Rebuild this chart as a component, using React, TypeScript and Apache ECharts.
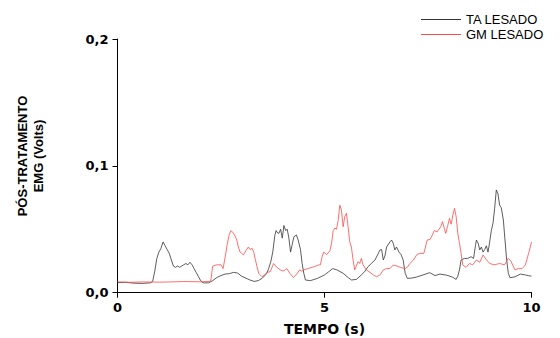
import React, { useEffect, useRef } from "react";
import * as echarts from "echarts";

const SERIES_NAMES = ["TA LESADO", "GM LESADO"];
const X_TICKS = [0, 5, 10];
const Y_TICKS = [0, 0.1, 0.2];

// [time (s), EMG (V)]
const TA_LESADO: [number, number][] = [
  [0, 0.008], [0.2, 0.0082], [0.4, 0.0075], [0.6, 0.0073], [0.8, 0.0078], [0.85, 0.009],
  [0.9, 0.017], [0.95, 0.027], [1.0, 0.032], [1.05, 0.035], [1.1, 0.04], [1.15, 0.037],
  [1.2, 0.034], [1.25, 0.031], [1.3, 0.026], [1.35, 0.021], [1.4, 0.02], [1.45, 0.021],
  [1.5, 0.02], [1.55, 0.021], [1.6, 0.022], [1.65, 0.023], [1.7, 0.022], [1.75, 0.024],
  [1.8, 0.022], [1.85, 0.019], [1.9, 0.016], [1.95, 0.013], [2.0, 0.01], [2.05, 0.008],
  [2.1, 0.0077], [2.2, 0.0078], [2.3, 0.0095], [2.4, 0.012], [2.5, 0.0135], [2.6, 0.0147],
  [2.7, 0.015], [2.8, 0.016], [2.9, 0.0155], [3.0, 0.013], [3.1, 0.0115], [3.2, 0.01],
  [3.3, 0.0089], [3.4, 0.0095], [3.5, 0.0115], [3.6, 0.015], [3.65, 0.019], [3.7, 0.024],
  [3.75, 0.032], [3.8, 0.045], [3.83, 0.049], [3.87, 0.047], [3.9, 0.0468], [3.94, 0.05],
  [3.98, 0.043], [4.02, 0.053], [4.06, 0.049], [4.1, 0.05], [4.14, 0.043], [4.18, 0.032],
  [4.22, 0.038], [4.26, 0.044], [4.32, 0.0455], [4.36, 0.042], [4.42, 0.034], [4.46, 0.023],
  [4.5, 0.0153], [4.54, 0.01], [4.66, 0.0095], [4.83, 0.0113], [5.0, 0.014], [5.1, 0.0165],
  [5.2, 0.019], [5.3, 0.018], [5.45, 0.0153], [5.57, 0.012], [5.65, 0.01], [5.77, 0.0105],
  [5.89, 0.014], [5.97, 0.0166], [6.05, 0.0205], [6.13, 0.023], [6.22, 0.0258], [6.3, 0.031],
  [6.34, 0.0337], [6.38, 0.034], [6.42, 0.0258], [6.46, 0.029], [6.5, 0.036], [6.58, 0.04],
  [6.62, 0.0415], [6.66, 0.039], [6.7, 0.0337], [6.74, 0.036], [6.8, 0.032], [6.85, 0.03],
  [6.9, 0.0258], [6.95, 0.0153], [7.0, 0.0113], [7.1, 0.0115], [7.22, 0.0123], [7.38, 0.014],
  [7.54, 0.0158], [7.67, 0.0135], [7.79, 0.0147], [7.95, 0.0138], [8.09, 0.0123], [8.18, 0.0105],
  [8.22, 0.013], [8.26, 0.018], [8.3, 0.0258], [8.38, 0.027], [8.46, 0.027], [8.54, 0.0284],
  [8.6, 0.027], [8.65, 0.038], [8.67, 0.0415], [8.71, 0.039], [8.75, 0.0337], [8.79, 0.036],
  [8.83, 0.032], [8.87, 0.034], [8.91, 0.037], [8.95, 0.032], [8.99, 0.04], [9.03, 0.049],
  [9.07, 0.0547], [9.11, 0.0665], [9.15, 0.081], [9.19, 0.078], [9.23, 0.069], [9.27, 0.067],
  [9.32, 0.0573], [9.36, 0.0415], [9.4, 0.0258], [9.44, 0.0153], [9.48, 0.0118], [9.6, 0.0125],
  [9.73, 0.0147], [9.85, 0.014], [9.93, 0.0134], [10, 0.013],
];

const GM_LESADO: [number, number][] = [
  [0, 0.0085], [0.3, 0.0082], [0.6, 0.0085], [1.0, 0.0083], [1.3, 0.0085], [1.6, 0.0088],
  [2.0, 0.0086], [2.25, 0.009], [2.3, 0.021], [2.4, 0.022], [2.5, 0.022], [2.55, 0.019],
  [2.6, 0.028], [2.65, 0.038], [2.7, 0.046], [2.74, 0.049], [2.8, 0.047], [2.85, 0.044],
  [2.88, 0.0415], [2.92, 0.036], [2.96, 0.032], [3.0, 0.031], [3.04, 0.0297], [3.1, 0.033],
  [3.16, 0.036], [3.2, 0.034], [3.25, 0.035], [3.29, 0.032], [3.33, 0.026], [3.37, 0.0205],
  [3.41, 0.0153], [3.49, 0.0126], [3.55, 0.014], [3.61, 0.016], [3.69, 0.0166], [3.77, 0.023],
  [3.85, 0.02], [3.93, 0.018], [4.0, 0.017], [4.05, 0.018], [4.09, 0.019], [4.17, 0.015],
  [4.25, 0.012], [4.33, 0.0147], [4.4, 0.018], [4.45, 0.017], [4.5, 0.018], [4.6, 0.019],
  [4.75, 0.0205], [4.85, 0.0218], [4.9, 0.022], [4.94, 0.028], [4.98, 0.032], [5.05, 0.03],
  [5.13, 0.033], [5.17, 0.039], [5.21, 0.049], [5.25, 0.051], [5.29, 0.05], [5.33, 0.057],
  [5.37, 0.069], [5.41, 0.065], [5.45, 0.052], [5.49, 0.06], [5.53, 0.0626], [5.57, 0.052],
  [5.61, 0.04], [5.65, 0.036], [5.69, 0.0258], [5.73, 0.018], [5.81, 0.0245], [5.85, 0.023],
  [5.89, 0.027], [5.93, 0.022], [6.01, 0.018], [6.1, 0.016], [6.18, 0.014], [6.26, 0.0126],
  [6.34, 0.014], [6.42, 0.018], [6.5, 0.019], [6.58, 0.019], [6.66, 0.0218], [6.75, 0.021],
  [6.83, 0.02], [6.94, 0.019], [7.0, 0.02], [7.06, 0.023], [7.15, 0.0258], [7.23, 0.03],
  [7.3, 0.031], [7.4, 0.031], [7.48, 0.0415], [7.55, 0.042], [7.6, 0.045], [7.65, 0.049],
  [7.72, 0.048], [7.81, 0.052], [7.85, 0.056], [7.9, 0.05], [7.93, 0.0468], [7.97, 0.052],
  [8.02, 0.0586], [8.06, 0.054], [8.1, 0.0612], [8.14, 0.0665], [8.18, 0.06], [8.22, 0.0468],
  [8.26, 0.039], [8.3, 0.031], [8.34, 0.0218], [8.42, 0.02], [8.5, 0.023], [8.58, 0.022],
  [8.67, 0.0258], [8.75, 0.024], [8.83, 0.0297], [8.91, 0.026], [8.99, 0.023], [9.1, 0.022],
  [9.23, 0.023], [9.35, 0.022], [9.44, 0.027], [9.5, 0.025], [9.6, 0.018], [9.68, 0.019],
  [9.77, 0.019], [9.85, 0.0218], [9.93, 0.031], [10, 0.04],
];

const COLORS = ["#333333", "#ff4a4a"];
const BOLD_FONT = "DejaVu Sans";

export default function App() {
  const ref = useRef<HTMLDivElement>(null);
  useEffect(() => {
    if (!ref.current) return;
    const chart = echarts.init(ref.current, undefined, { renderer: "svg" });
    const axisCommon = {
      axisLine: { show: true, lineStyle: { color: "#000", width: 1 } },
      axisTick: { show: true, inside: false, length: 5, lineStyle: { color: "#000", width: 1 } },
      splitLine: { show: false },
    };
    chart.setOption({
      animation: false,
      backgroundColor: "#fff",
      grid: {
        left: 117.5,
        right: 28.5,
        top: 39,
        bottom: 45.3,
        containLabel: false,
        outerBoundsMode: "none",
      },
      legend: {
        data: SERIES_NAMES,
        orient: "vertical",
        left: 421,
        top: 13,
        itemWidth: 40,
        itemHeight: 1,
        itemGap: 2,
        padding: 0,
        icon: "rect",
        textStyle: { fontFamily: "Liberation Sans", fontSize: 13, color: "#000" },
      },
      xAxis: {
        type: "value",
        min: X_TICKS[0],
        max: X_TICKS[X_TICKS.length - 1],
        interval: X_TICKS[1] - X_TICKS[0],
        ...axisCommon,
        axisLabel: { margin: 8, color: "#000", fontFamily: BOLD_FONT, fontWeight: "bold", fontSize: 13 },
        name: "TEMPO (s)",
        nameLocation: "middle",
        nameGap: 29,
        nameTextStyle: { color: "#000", fontFamily: BOLD_FONT, fontWeight: "bold", fontSize: 14 },
      },
      yAxis: {
        type: "value",
        min: Y_TICKS[0],
        max: Y_TICKS[Y_TICKS.length - 1],
        interval: Y_TICKS[1] - Y_TICKS[0],
        ...axisCommon,
        axisLabel: {
          margin: 9,
          color: "#000",
          fontFamily: BOLD_FONT,
          fontWeight: "bold",
          fontSize: 13,
          formatter: (v: number) => v.toFixed(1).replace(".", ","),
        },
      },
      graphic: [
        {
          type: "text",
          x: 22,
          y: 156,
          rotation: Math.PI / 2,
          style: {
            text: "PÓS-TRATAMENTO",
            align: "center",
            verticalAlign: "middle",
            fontFamily: "Liberation Sans",
            fontWeight: "bold",
            fontSize: 13,
            fill: "#000",
          },
        },
        {
          type: "text",
          x: 38.5,
          y: 156,
          rotation: Math.PI / 2,
          style: {
            text: "EMG (Volts)",
            align: "center",
            verticalAlign: "middle",
            fontFamily: "Liberation Sans",
            fontWeight: "bold",
            fontSize: 13,
            fill: "#000",
          },
        },
      ],
      series: [
        {
          name: SERIES_NAMES[0],
          type: "line",
          data: TA_LESADO,
          showSymbol: false,
          symbol: "none",
          lineStyle: { color: COLORS[0], width: 0.8 },
          itemStyle: { color: COLORS[0] },
        },
        {
          name: SERIES_NAMES[1],
          type: "line",
          data: GM_LESADO,
          showSymbol: false,
          symbol: "none",
          lineStyle: { color: COLORS[1], width: 0.8 },
          itemStyle: { color: COLORS[1] },
        },
      ],
    });
    return () => chart.dispose();
  }, []);
  return <div ref={ref} style={{ position: "absolute", left: 0, top: 0, width: 560, height: 338 }} />;
}
